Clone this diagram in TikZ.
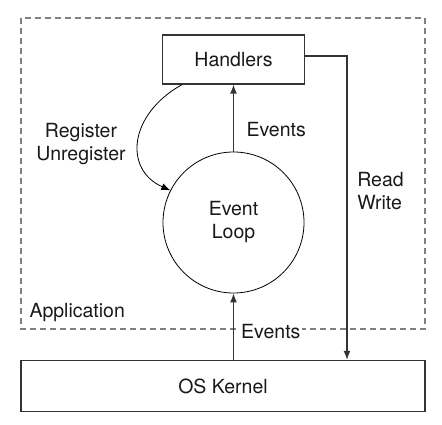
\documentclass[tikz,border=0pt]{standalone}
\usepackage{fontspec}
\setmainfont{TeX Gyre Heros}
\usetikzlibrary{calc,arrows.meta}

\begin{document}
\begin{tikzpicture}[x=1pt,y=-1pt]
				\tikzset{box/.style = {shape=rectangle, draw=black!80, line width=1.3pt, inner sep=0pt},
					loop/.style = {shape=circle, draw=black, line width=0.8pt, minimum size=141pt, inner sep=0pt, align=center},
					flow/.style = {draw=black!80, line width=1.3pt, -{Latex[length=9pt,width=7pt]}},
					txt/.style = {text=black!90, font=\fontsize{19.5}{23}\selectfont}}
				
				\useasboundingbox (0,0) rectangle (442,425);
				
				%\node[] (label_app) at (0,0) {Application};
				
				\draw[gray, line width=1.1pt, dash pattern=on 6pt off 4pt] (21,18) rectangle (425,329);
				\node[txt, anchor=west] (label_app) at (26,313) {Application};
				
				\node[box, txt, minimum width=142pt, minimum height=49pt] (handlers) at (233.5,59.5) {Handlers};
				\node[loop, txt] (eventloop) at (233.5,222.5) {Event\\Loop};
				\node[box, txt, minimum width=404pt, minimum height=51pt] (kernel) at (223,386) {OS Kernel};
				\coordinate (rw) at (347,0);
				
				\node[txt, anchor=west] (label_ev1) at (243,130) {Events};
				\node[txt, anchor=west, fill=white, inner sep=2pt] (label_ev2) at (239,332) {Events};
				\node[txt, align=center] (label_reg) at (81,144) {Register\\Unregister};
				\node[txt, align=left] (label_rw) at (380.5,191.5) {Read\\Write};
				
				\draw[flow] (eventloop) to (handlers);
				\draw[flow] (kernel.north -| eventloop.south) to (eventloop.south);
				\draw[flow] (handlers.east |- 0,56) -| (rw |- kernel.north);
				\draw[flow, draw=black, line width=0.8pt] ($(handlers.south west)+(20,0)$) .. controls (128,115) and (124,170) .. (eventloop.153);
				
			\end{tikzpicture}
\end{document}
